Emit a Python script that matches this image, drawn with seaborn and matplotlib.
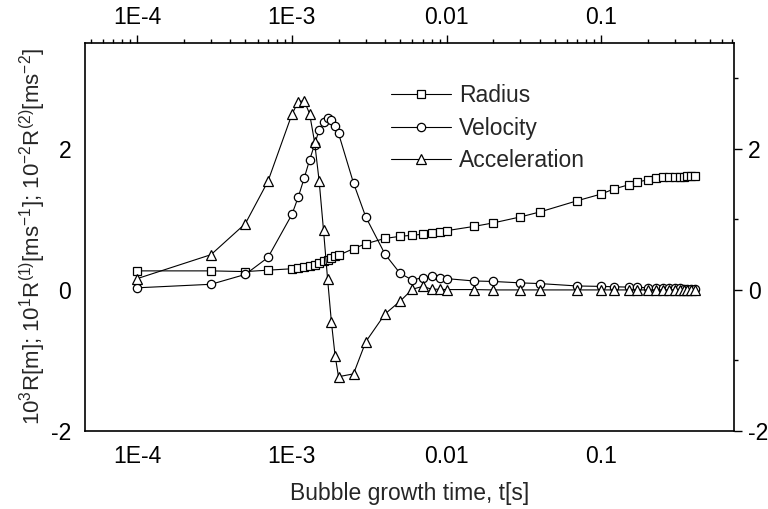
import matplotlib
matplotlib.use("Agg")
import matplotlib.pyplot as plt
from matplotlib.ticker import FixedLocator, FixedFormatter, LogLocator, NullFormatter, MultipleLocator
import numpy as np
import pandas as pd
import seaborn as sns

# Bubble growth time [s]
t_s = [1e-4, 3e-4, 5e-4, 7e-4,
       1.0e-3, 1.1e-3, 1.2e-3, 1.3e-3, 1.4e-3, 1.5e-3, 1.6e-3, 1.7e-3, 1.8e-3, 1.9e-3, 2.0e-3,
       2.5e-3, 3e-3, 4e-3, 5e-3, 6e-3, 7e-3, 8e-3, 9e-3,
       0.01, 0.015, 0.02, 0.03, 0.04, 0.07,
       0.1, 0.12, 0.15, 0.17, 0.2, 0.225, 0.25, 0.275, 0.3, 0.32, 0.34, 0.36, 0.38, 0.4]

# 10^3 R [m]
radius = [0.27, 0.27, 0.26, 0.28,
          0.30, 0.315, 0.325, 0.34, 0.36, 0.385, 0.41, 0.43, 0.455, 0.475, 0.49,
          0.585, 0.655, 0.73, 0.76, 0.775, 0.79, 0.81, 0.825,
          0.84, 0.90, 0.95, 1.035, 1.105, 1.265,
          1.36, 1.43, 1.49, 1.53, 1.56, 1.585, 1.595, 1.60, 1.60, 1.605, 1.605, 1.61, 1.61, 1.61]

# 10^1 R' [m/s]
velocity = [0.03, 0.08, 0.22, 0.46,
            1.07, 1.32, 1.585, 1.84, 2.06, 2.27, 2.375, 2.43, 2.41, 2.33, 2.22,
            1.515, 1.035, 0.505, 0.235, 0.14, 0.175, 0.195, 0.17,
            0.16, 0.127, 0.12, 0.10, 0.09, 0.056,
            0.05, 0.045, 0.04, 0.036, 0.032, 0.03, 0.028, 0.025, 0.023, 0.021, 0.02, 0.018, 0.016, 0.015]

# 10^-2 R'' [m/s^2]
acceleration = [0.16, 0.50, 0.94, 1.54,
                2.49, 2.67, 2.68, 2.50, 2.10, 1.54, 0.845, 0.155, -0.46, -0.93, -1.23,
                -1.19, -0.735, -0.34, -0.16, 0.01, 0.05, 0.01, 0.01,
                0.005, 0.005, 0.0, 0.0, 0.0, 0.0,
                0.0, 0.0, 0.0, 0.0, 0.0, 0.0, 0.0, 0.0, 0.0, 0.0, 0.0, 0.0, 0.0, 0.0]

series_names = ["Radius", "Velocity", "Acceleration"]
x_tick_values = [1e-4, 1e-3, 1e-2, 1e-1]
x_tick_labels = ["1E-4", "1E-3", "0.01", "0.1"]
y_tick_values = [-2, 0, 2]

df = pd.DataFrame({"t": t_s * 3,
                   "value": radius + velocity + acceleration,
                   "series": np.repeat(series_names, len(t_s))})

sns.set_theme(style="white")
plt.rcParams["font.family"] = ["Liberation Sans", "DejaVu Sans"]
plt.rcParams["mathtext.default"] = "regular"
plt.rcParams["axes.unicode_minus"] = False
FS = 16.5

fig = plt.figure(figsize=(7.68, 5.09), dpi=100)
ax = fig.add_axes([0.1107, 0.1532, 0.8451, 0.7623])

styles = {"Radius": ("s", 5.5), "Velocity": ("o", 6.0), "Acceleration": ("^", 7.0)}
for name in series_names:
    marker, ms = styles[name]
    sns.lineplot(data=df[df["series"] == name], x="t", y="value", ax=ax,
                 estimator=None, sort=False, color="black", linewidth=0.8,
                 marker=marker, markersize=ms, markerfacecolor="white",
                 markeredgecolor="black", markeredgewidth=0.9, label=name)

ax.set_xscale("log")
ax.set_xlim(4.6e-5, 0.72)
ax.set_ylim(-2, 3.5)

ax.xaxis.set_major_locator(FixedLocator(x_tick_values))
ax.xaxis.set_major_formatter(FixedFormatter(x_tick_labels))
ax.xaxis.set_minor_locator(LogLocator(base=10, subs=np.arange(2, 10), numticks=20))
ax.xaxis.set_minor_formatter(NullFormatter())
ax.yaxis.set_major_locator(FixedLocator(y_tick_values))
ax.yaxis.set_minor_locator(MultipleLocator(1))

ax.tick_params(axis="both", which="both", direction="out", colors="black",
               top=True, right=True, labeltop=True, labelright=True,
               labelsize=FS, width=1.0)
ax.tick_params(axis="both", which="major", length=6, pad=4)
ax.tick_params(axis="both", which="minor", length=3)

for spine in ax.spines.values():
    spine.set_color("black")
    spine.set_linewidth(1.2)

ax.set_xlabel("Bubble growth time, t[s]", fontsize=FS, labelpad=10)
ax.set_ylabel("$10^3$R[m]; $10^1$R$^{(1)}$[ms$^{-1}$]; $10^{-2}$R$^{(2)}$[ms$^{-2}$]",
              fontsize=16, labelpad=2)

ax.legend(loc="upper left", bbox_to_anchor=(0.4715, 0.894), frameon=False,
          fontsize=FS, handlelength=2.6, handletextpad=0.35, labelspacing=0.42,
          borderpad=0, borderaxespad=0)

fig.savefig("out.png", dpi=100)
